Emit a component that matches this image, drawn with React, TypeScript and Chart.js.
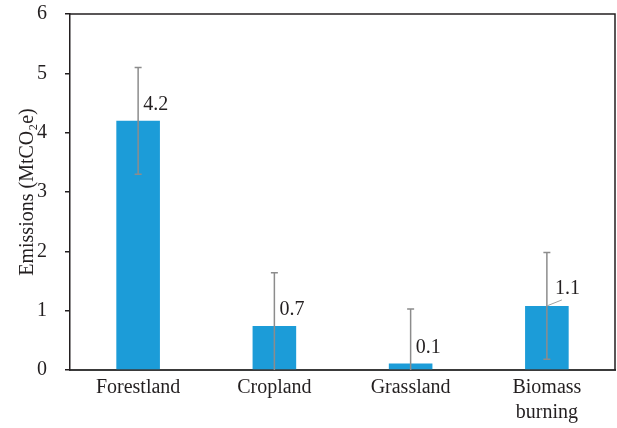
import React, { useEffect, useRef } from "react";
import { Chart, registerables } from "chart.js";

Chart.register(...registerables);

const categories: (string | string[])[] = ["Forestland", "Cropland", "Grassland", ["Biomass", "burning"]];
const emissions = [4.2, 0.74, 0.11, 1.08];
const errors = [0.9, 0.9, 0.92, 0.9];
const valueLabels = ["4.2", "0.7", "0.1", "1.1"];
const leaderLabel = [false, false, false, true];
const yMin = 0;
const yMax = 6;
const yStep = 1;
const yTitle = "Emissions (MtCO\u2082e)";

const FONT = "'Liberation Serif', 'DejaVu Serif', serif";
const INK = "#231f20";
const BAR = "#1c9cd8";
const ERR = "#8c8c8c";
const SHIFT = 16;

const framePlugin = {
  id: "frame",
  afterDraw(chart: any) {
    const { ctx, chartArea } = chart;
    ctx.save();
    ctx.strokeStyle = INK;
    ctx.lineWidth = 1.5;
    ctx.beginPath();
    ctx.moveTo(chartArea.left, chartArea.top);
    ctx.lineTo(chartArea.right, chartArea.top);
    ctx.lineTo(chartArea.right, chartArea.bottom);
    ctx.stroke();
    ctx.restore();
  },
};

const errorPlugin = {
  id: "errorBars",
  afterDatasetsDraw(chart: any) {
    const { ctx, chartArea } = chart;
    const meta = chart.getDatasetMeta(0);
    const y = chart.scales.y;
    ctx.save();
    ctx.strokeStyle = ERR;
    ctx.lineWidth = 1.5;
    meta.data.forEach((bar: any, i: number) => {
      const x = bar.x;
      const hiV = emissions[i] + errors[i];
      const loV = emissions[i] - errors[i];
      const hi = y.getPixelForValue(hiV);
      const lo = Math.min(chartArea.bottom, y.getPixelForValue(loV));
      ctx.beginPath();
      ctx.moveTo(x, hi);
      ctx.lineTo(x, lo);
      ctx.moveTo(x - 3.5, hi);
      ctx.lineTo(x + 3.5, hi);
      if (loV > yMin) {
        ctx.moveTo(x - 3.5, lo);
        ctx.lineTo(x + 3.5, lo);
      }
      ctx.stroke();
    });
    // value labels
    ctx.fillStyle = INK;
    ctx.font = `20px ${FONT}`;
    ctx.textAlign = "left";
    ctx.textBaseline = "middle";
    meta.data.forEach((bar: any, i: number) => {
      const top = bar.y;
      if (leaderLabel[i]) {
        ctx.strokeStyle = "#a0a0a0";
        ctx.lineWidth = 1;
        ctx.beginPath();
        ctx.moveTo(bar.x, top);
        ctx.lineTo(bar.x + 15, top - 6);
        ctx.stroke();
        ctx.fillText(valueLabels[i], bar.x + 8, top - 17);
      } else {
        ctx.fillText(valueLabels[i], bar.x + 5, top - 16);
      }
    });
    ctx.restore();
  },
};

export default function App() {
  const ref = useRef<HTMLCanvasElement>(null);
  useEffect(() => {
    if (!ref.current) return;
    const chart = new Chart(ref.current, {
      type: "bar",
      data: {
        labels: categories as any,
        datasets: [
          {
            data: emissions,
            backgroundColor: BAR,
            borderWidth: 0,
            barPercentage: 0.32,
            categoryPercentage: 1,
          },
        ],
      },
      options: {
        animation: false,
        responsive: false,
        devicePixelRatio: 1,
        layout: { padding: { left: 0, right: 2, top: 0, bottom: 0 } },
        plugins: { legend: { display: false }, tooltip: { enabled: false } },
        scales: {
          x: {
            grid: { display: false, drawTicks: false },
            border: { display: true, color: "#3a3a3a", width: 2 },
            ticks: {
              color: INK,
              font: { family: FONT, size: 20, lineHeight: 1.25 },
              padding: 5,
              maxRotation: 0,
            },
            afterFit(scale: any) {
              scale.height = 58;
            },
          },
          y: {
            min: yMin,
            max: yMax,
            grid: { drawOnChartArea: false, drawTicks: true, tickLength: 5, color: INK, lineWidth: 1.5 },
            border: { display: true, color: INK, width: 1.5 },
            ticks: {
              stepSize: yStep,
              color: INK,
              font: { family: FONT, size: 20 },
              padding: 18,
            },
            title: {
              display: true,
              text: yTitle,
              color: INK,
              font: { family: FONT, size: 20 },
              padding: { top: 16, bottom: 0 },
            },
            afterFit(scale: any) {
              scale.width = 70;
            },
          },
        },
      },
      plugins: [framePlugin, errorPlugin],
    });
    return () => chart.destroy();
  }, []);
  return (
    <div style={{ position: "fixed", left: 0, top: 0, width: 617, height: 428, overflow: "hidden", background: "#fff" }}>
      <canvas
        ref={ref}
        width={617}
        height={428 + SHIFT}
        style={{ position: "absolute", left: 0, top: -SHIFT }}
      />
    </div>
  );
}
